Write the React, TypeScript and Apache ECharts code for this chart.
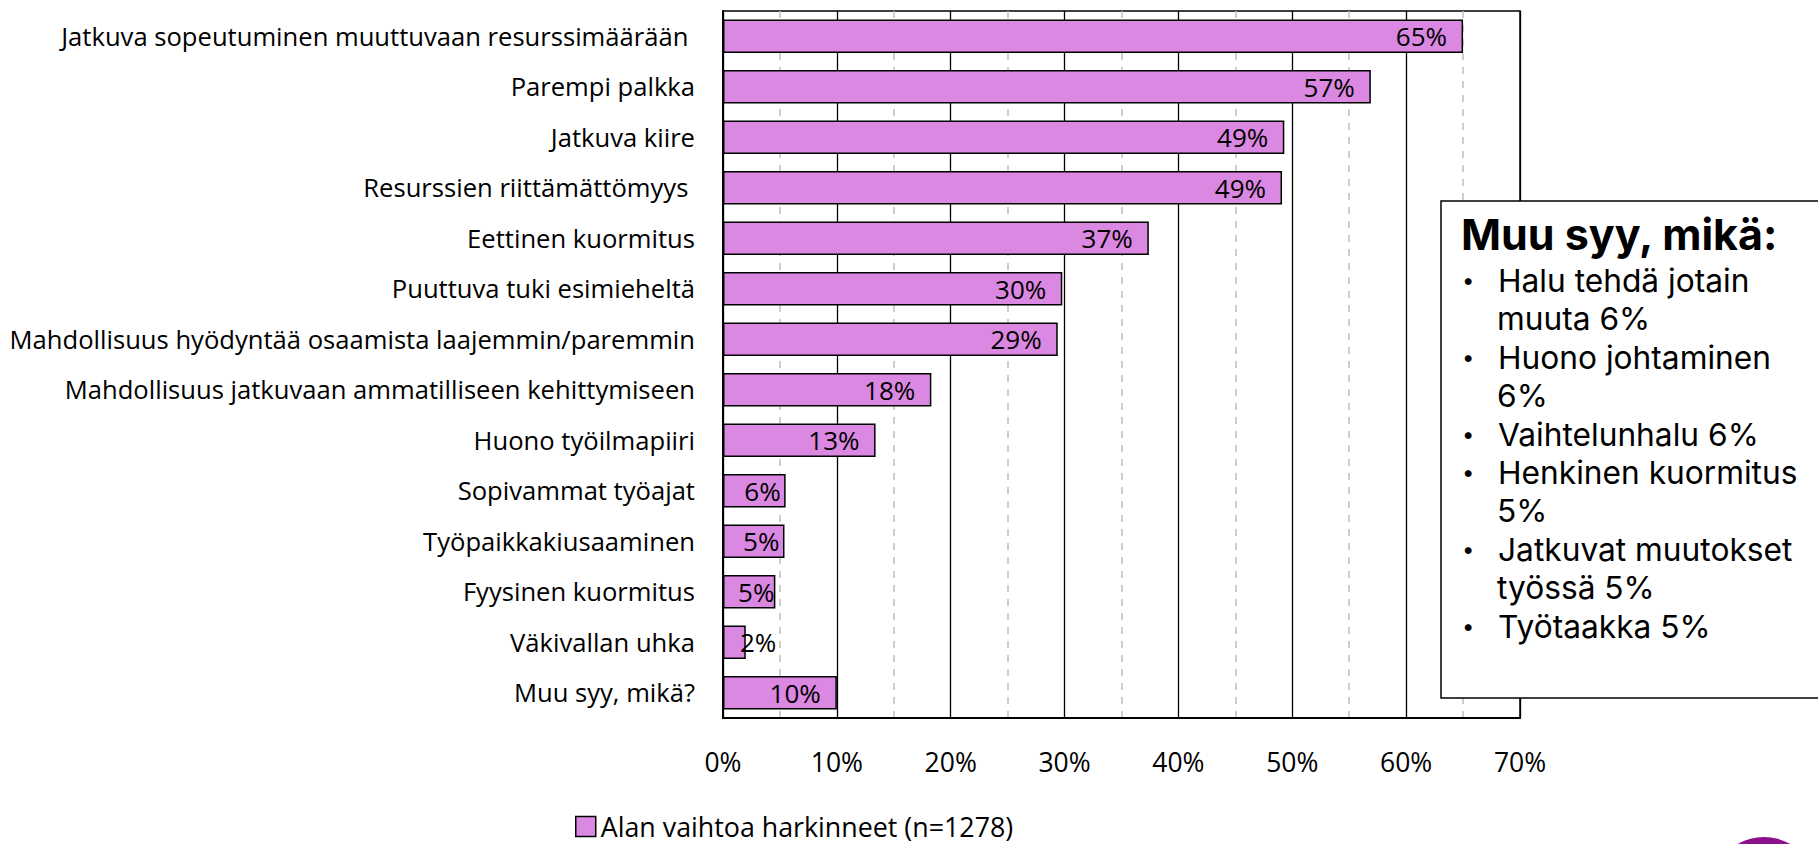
import React, { useEffect, useRef } from "react";
import * as echarts from "echarts";

const categories: string[] = [
  "Jatkuva sopeutuminen muuttuvaan resurssimäärään ",
  "Parempi palkka",
  "Jatkuva kiire",
  "Resurssien riittämättömyys ",
  "Eettinen kuormitus",
  "Puuttuva tuki esimieheltä",
  "Mahdollisuus hyödyntää osaamista laajemmin/paremmin",
  "Mahdollisuus jatkuvaan ammatilliseen kehittymiseen",
  "Huono työilmapiiri",
  "Sopivammat työajat",
  "Työpaikkakiusaaminen",
  "Fyysinen kuormitus",
  "Väkivallan uhka",
  "Muu syy, mikä?",
];

const values: number[] = [65.0, 56.9, 49.3, 49.1, 37.4, 29.8, 29.4, 18.3, 13.4, 5.5, 5.4, 4.6, 2.0, 10.0];

const seriesName = "Alan vaihtoa harkinneet (n=1278)";

const xMin = 0;
const xMax = 70;
const xInterval = 10;

const boxTitle = "Muu syy, mikä:";
const otherReasons: string[][] = [
  ["Halu tehdä jotain", "muuta 6%"],
  ["Huono johtaminen", "6%"],
  ["Vaihtelunhalu 6%"],
  ["Henkinen kuormitus", "5%"],
  ["Jatkuvat muutokset", "työssä 5%"],
  ["Työtaakka 5%"],
];

const FONT = '"Open Sans", "Noto Sans", sans-serif';
const BOX_FONT = 'Inter, "Open Sans", sans-serif';

function labelPlacement(v: number) {
  if (v >= 10) return { position: "insideRight", distance: 16 };
  if (v >= 5) return { position: "insideRight", distance: 5 };
  if (v >= 3) return { position: "insideRight", distance: 1 };
  return { position: "insideLeft", distance: 17 };
}

export default function App() {
  const ref = useRef<HTMLDivElement>(null);

  useEffect(() => {
    if (!ref.current) return;
    const chart = echarts.init(ref.current, undefined, { renderer: "svg" });

    const boxLines: string[] = [`{t|${boxTitle}}`];
    otherReasons.forEach((item) => {
      item.forEach((t, k) => {
        boxLines.push(k === 0 ? `{b|•}{i|${t}}` : `{c|${t}}`);
      });
    });

    const itemFont = `31.7px ${BOX_FONT}`;
    const graphics: any[] = [
      {
        type: "rect",
        z: 100,
        shape: { x: 1441, y: 201, width: 460, height: 497 },
        style: { fill: "#fff", stroke: "#000", lineWidth: 1.5 },
      },
      {
        type: "text",
        z: 101,
        x: 1461,
        y: 206.7,
        style: {
          text: boxLines.join("\n"),
          fill: "#000",
          verticalAlign: "top",
          align: "left",
          rich: {
            t: { font: `bold 43px ${BOX_FONT}`, lineHeight: 54.6, fill: "#000" },
            b: { font: `22px ${BOX_FONT}`, lineHeight: 38.4, width: 36, align: "left", fill: "#000", padding: [0, 0, 0, 1] },
            i: { font: itemFont, lineHeight: 38.4, fill: "#000" },
            c: { font: itemFont, lineHeight: 38.4, padding: [0, 0, 0, 36], fill: "#000" },
          },
        },
      },
      {
        type: "circle",
        z: 101,
        shape: { cx: 1764, cy: 890, r: 53 },
        style: { fill: "#8C0F8C" },
      },
    ];

    const option: any = {
      animation: false,
      backgroundColor: "#fff",
      textStyle: { fontFamily: FONT },
      grid: {
        left: 723,
        right: 298,
        top: 11,
        bottom: 126,
        show: true,
        borderColor: "#000",
        borderWidth: 1.5,
        containLabel: false,
        outerBoundsMode: "none",
      },
      legend: {
        data: [seriesName],
        left: 575,
        top: 813,
        padding: 0,
        itemWidth: 20,
        itemHeight: 20,
        icon: "rect",
        textStyle: { fontSize: 26.8, color: "#000", fontFamily: FONT },
        itemStyle: { borderColor: "#000", borderWidth: 1.5 },
      },
      xAxis: {
        type: "value",
        min: xMin,
        max: xMax,
        interval: xInterval,
        axisLabel: {
          formatter: "{value}%",
          fontSize: 26.5,
          color: "#000",
          margin: 30,
          fontFamily: FONT,
        },
        axisLine: { show: true, lineStyle: { color: "#000", width: 2 } },
        axisTick: { show: false },
        splitLine: { show: true, lineStyle: { color: "#000", width: 1.3 } },
        minorTick: { show: false, splitNumber: 2 },
        minorSplitLine: { show: true, lineStyle: { color: "#BFBFBF", width: 1.5, type: [7, 7] } },
      },
      yAxis: {
        type: "category",
        data: categories,
        inverse: true,
        axisLine: { show: true, lineStyle: { color: "#000", width: 2 } },
        axisTick: { show: false },
        splitLine: { show: false },
        axisLabel: { fontSize: 25.6, color: "#000", margin: 28, interval: 0, fontFamily: FONT },
      },
      series: [
        {
          name: seriesName,
          type: "bar",
          barCategoryGap: "34%",
          data: values.map((v) => ({ value: v, label: labelPlacement(v) })),
          itemStyle: { color: "#DB88E2", borderColor: "#000", borderWidth: 1.5 },
          label: {
            show: true,
            formatter: (p: any) => `${Math.round(p.value)}%`,
            fontSize: 26,
            color: "#000",
            fontFamily: FONT,
          },
        },
      ],
      graphic: graphics,
    };

    chart.setOption(option);
    return () => chart.dispose();
  }, []);

  return (
    <div
      ref={ref}
      style={{ position: "fixed", left: 0, top: 0, width: 1818, height: 844, background: "#fff" }}
    />
  );
}
